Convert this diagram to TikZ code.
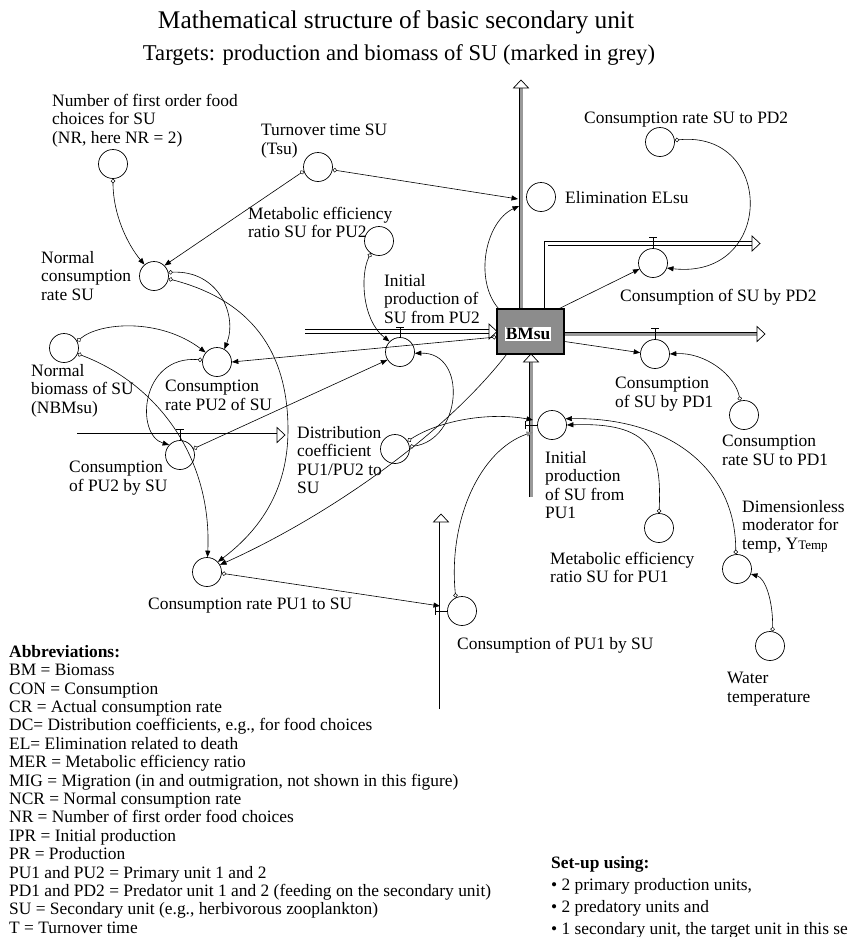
\documentclass[tikz,border=0pt]{standalone}
\usepackage{fontspec}
\setmainfont{Liberation Serif}
\usetikzlibrary{arrows.meta,calc}
\begin{document}
\begin{tikzpicture}[x=1pt,y=-1pt,
  every node/.style={inner sep=0pt},
  txt/.style={font=\fontsize{17.4}{18.5}\selectfont, align=left, anchor=north west},
  aux/.style={circle, draw, line width=0.7pt, minimum size=29pt, inner sep=0pt},
  conn/.style={line width=0.6pt, arrows={{Circle[length=4.4pt,width=4.4pt,fill=white,line width=0.5pt]}-{Triangle[length=6.5pt,width=5pt]}}},
  gconn/.style={line width=0.6pt, arrows={{Circle[length=4.4pt,width=4.4pt,fill=white,line width=0.5pt]}-{Triangle[length=6.5pt,width=5pt,color=black!45]}}},
  link/.style={line width=0.6pt, -{Triangle[length=6.5pt,width=5pt]}},
  pipe/.style={draw, double=white, double distance=3pt, line width=0.75pt},
  gpipe/.style={pipe, double=black!40},
  valve/.style={line width=0.7pt},
  pics/pipetip/.style={code={\filldraw[fill=white, line width=0.7pt] (0,0) -- (-8,-7.5) -- (-8,7.5) -- cycle;}}
]
\useasboundingbox (0,0) rectangle (847,937);
\clip (0,0) rectangle (847,937);
\fill[white] (0,0) rectangle (847,937);

% headings
\node[font=\fontsize{25.4}{28}\selectfont, anchor=base] (title) at (396,28.5) {Mathematical structure of basic secondary unit};
\node[font=\fontsize{22.6}{26}\selectfont, anchor=base] (subtitle) at (399,60.5) {Targets: production and biomass of SU (marked in grey)};

% converters and flow regulators
\node[aux] (NR) at (113,164) {};
\node[aux] (Tsu) at (318,167) {};
\node[aux] (MERtwo) at (379,241) {};
\node[aux] (NCR) at (154,276) {};
\node[aux] (EL) at (541,197) {};
\node[aux] (CRPDtwo) at (660,142) {};
\node[aux] (CONPDtwo) at (653,263) {};
\node[aux] (IPtwo) at (400,352) {};
\node[aux] (CRPUtwo) at (217,362) {};
\node[aux] (NBM) at (64,348) {};
\node[aux] (CONPUtwo) at (180,455) {};
\node[aux] (DC) at (395,449) {};
\node[aux] (CRPUone) at (207,572) {};
\node[aux] (CONPDone) at (655,354) {};
\node[aux] (CRPDone) at (744,415) {};
\node[aux] (IPone) at (552,425) {};
\node[aux] (MERone) at (659,528) {};
\node[aux] (YT) at (737,569) {};
\node[aux] (WT) at (770,646) {};
\node[aux] (CONPUone) at (462,611) {};

% free ends of the flow pipes
\coordinate (elTip) at (521,80);
\coordinate (pdTwoTip) at (760,243.5);
\coordinate (pdOneTip) at (765,334);
\coordinate (puTwoSrc) at (305,331.5);
\coordinate (puOneSrc) at (531,497);
\coordinate (cpTwoSrc) at (77,435);
\coordinate (cpTwoTip) at (285,435);
\coordinate (cpOneSrc) at (441,709);
\coordinate (cpOneTip) at (441,514);

% stock position (needed by the pipes)
\coordinate (BMc) at (530.5,331.5);

% flow pipes
\draw[gpipe] (521,309) -- ($(elTip)+(0,8)$);
\pic[rotate=90] at (elTip) {pipetip};
\draw[pipe] (546,309) |- ($(pdTwoTip)+(-8,0)$);
\pic at (pdTwoTip) {pipetip};
\draw[gpipe] (564,334) -- ($(pdOneTip)+(-8,0)$);
\pic at (pdOneTip) {pipetip};
\draw[pipe] (puTwoSrc) -- (489,331.5);
\pic at (497,331.5) {pipetip};
\draw[gpipe] (puOneSrc) -- (531,362);
\pic[rotate=90] at (531,354) {pipetip};
\draw[pipe] (cpTwoSrc) -- ($(cpTwoTip)+(-8,0)$);
\pic at (cpTwoTip) {pipetip};
\draw[pipe] (cpOneSrc) -- ($(cpOneTip)+(0,8)$);
\pic[rotate=90] at (cpOneTip) {pipetip};

% the stock
\node[draw, line width=1.2pt, fill=black!45, minimum width=67pt, minimum height=45pt] (BM) at (BMc) {};
\node[fill=white, inner sep=1pt, font=\fontsize{17.4}{18.5}\selectfont\bfseries] (BMtext) at (528,334) {BMsu};

% valve handles
\draw[valve] (IPtwo.north) -- ++(0,-9.5) ++(-4,0) -- ++(8,0);
\draw[valve] (CONPUtwo.north) -- ++(0,-10.5) ++(-4,0) -- ++(8,0);
\draw[valve] (CONPDtwo.north) -- ++(0,-10.5) ++(-4,0) -- ++(8,0);
\draw[valve] (CONPDone.north) -- ++(0,-10.5) ++(-4,0) -- ++(8,0);
\draw[valve] (IPone.west) -- ++(-11.5,0) ++(0,-4) -- ++(0,8);
\draw[valve] (CONPUone.west) -- ++(-11.5,0) ++(0,-4) -- ++(0,8);

% connector targets on the pipes
\coordinate (elvA) at (518,199);
\coordinate (elvB) at (519,206);
\coordinate (ipOneA) at (533,420);
\coordinate (ipOneB) at (533,432);
\coordinate (cpOneV) at (440,606);

% connectors
\draw[conn] (NR.-90) .. controls (113,215) and (128,245) .. (NCR.130);
\draw[conn] (Tsu.196) -- (NCR.45);
\draw[conn] (Tsu.-11) -- (elvA);
\draw[link] ($(BM.north west)+(2,0)$) .. controls (474,280) and (485,222) .. (elvB);
\draw[link] ($(BM.north east)+(-5,0)$) -- (CONPDtwo.204);
\draw[conn] (CRPDtwo.7) .. controls (775,130) and (775,280) .. (CONPDtwo.-20);
\draw[conn] ($(BM.west)+(0,5.5)$) -- (CRPUtwo.east);
\draw[conn] (MERtwo.236) .. controls (360,275) and (362,320) .. (IPtwo.135);
\draw[conn] (NCR.14) .. controls (218,270) and (238,315) .. (CRPUtwo.60);
\draw[conn] (NCR.-11) .. controls (250,300) and (288,350) .. (288,430) .. controls (288,490) and (260,530) .. (CRPUone.43);
\draw[conn] (NBM.27) .. controls (100,322) and (160,318) .. (CRPUtwo.140);
\draw[conn] (NBM.-23) .. controls (160,385) and (212,460) .. (CRPUone.88);
\draw[conn] (CRPUtwo.172) .. controls (140,355) and (135,435) .. (CONPUtwo.137);
\draw[conn] (CONPUtwo.25) -- (IPtwo.212);
\draw[conn] (CRPUone.-5) -- (cpOneV);
\draw[link] ($(BM.south west)+(10,0)$) .. controls (440,440) and (320,520) .. (CRPUone.29);
\draw[conn] (DC.9) .. controls (462,440) and (468,352) .. (IPtwo.-5);
\draw[conn] (DC.32) .. controls (440,420) and (490,412) .. (ipOneA);
\draw[gconn] (CONPUone.115) .. controls (448,520) and (480,450) .. (ipOneB);
\draw[conn] (MERone.90) .. controls (662,450) and (650,422) .. (IPone.0);
\draw[conn] (YT.95) .. controls (736,470) and (670,417) .. (IPone.25);
\draw[conn] (WT.80) .. controls (773,600) and (765,578) .. (YT.-20);
\draw[conn] (CRPDone.105) .. controls (735,375) and (705,352) .. (CONPDone.0);
\draw[link] ($(BM.east)+(0,10)$) -- (CONPDone.175);

% labels
\node[txt] (lNR) at (52,94) {Number of first order food\\choices for SU\\(NR, here NR = 2)};
\node[txt] (lTsu) at (261,124) {Turnover time SU\\(Tsu)};
\node[txt] (lMERtwo) at (248,207) {Metabolic efficiency\\ratio SU for PU2};
\node[txt] (lNCR) at (41,251) {Normal\\consumption\\rate SU};
\node[txt] (lIPtwo) at (384,274) {Initial\\production of\\SU from PU2};
\node[txt] (lEL) at (565,191) {Elimination ELsu};
\node[txt] (lCRPDtwo) at (584,112) {Consumption rate SU to PD2};
\node[txt] (lCONPDtwo) at (620,289) {Consumption of SU by PD2};
\node[txt] (lNBM) at (31,364) {Normal\\biomass of SU\\(NBMsu)};
\node[txt] (lCRPUtwo) at (165,380) {Consumption\\rate PU2 of SU};
\node[txt] (lCONPUtwo) at (69,461) {Consumption\\of PU2 by SU};
\node[txt] (lDC) at (297,426) {Distribution\\coefficient\\PU1/PU2 to\\SU};
\node[txt] (lCRPUone) at (148,598) {Consumption rate PU1 to SU};
\node[txt] (lCONPDone) at (615,377) {Consumption\\of SU by PD1};
\node[txt] (lCRPDone) at (722,435) {Consumption\\rate SU to PD1};
\node[txt] (lIPone) at (545,451) {Initial\\production\\of SU from\\PU1};
\node[txt] (lYT) at (742,500) {Dimensionless\\moderator for\\temp, Y{\fontsize{13}{13}\selectfont Temp}};
\node[txt] (lMERone) at (550,552) {Metabolic efficiency\\ratio SU for PU1};
\node[txt] (lCONPUone) at (457,637) {Consumption of PU1 by SU};
\node[txt] (lWT) at (727,672) {Water\\temperature};

% legend blocks
\node[txt, font=\fontsize{17.4}{18.4}\selectfont] (abbr) at (9,645) {\textbf{Abbreviations:}\\
BM = Biomass\\
CON = Consumption\\
CR = Actual consumption rate\\
DC= Distribution coefficients, e.g., for food choices\\
EL= Elimination related to death\\
MER = Metabolic efficiency ratio\\
MIG = Migration (in and outmigration, not shown in this figure)\\
NCR = Normal consumption rate\\
NR = Number of first order food choices\\
IPR = Initial production\\
PR = Production\\
PU1 and PU2 = Primary unit 1 and 2\\
PD1 and PD2 = Predator unit 1 and 2 (feeding on the secondary unit)\\
SU = Secondary unit (e.g., herbivorous zooplankton)\\
T = Turnover time};
\node[txt, font=\fontsize{17.4}{22}\selectfont] (setup) at (551,856) {\textbf{Set-up using:}\\
\textbullet\ 2 primary production units,\\
\textbullet\ 2 predatory units and\\
\textbullet\ 1 secondary unit, the target unit in this set-up};
\end{tikzpicture}
\end{document}
